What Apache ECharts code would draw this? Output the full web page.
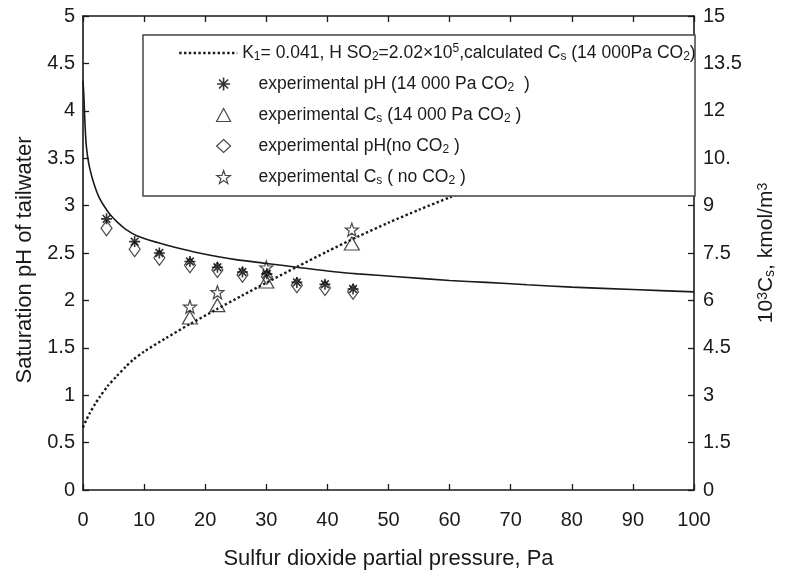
<!DOCTYPE html>
<html style="height: 100%">
    <head>
        <meta charset="utf-8">
    </head>
    <body style="height: 100%; margin: 0; background: #fff">
        <div id="container" style="width: 785px; height: 575px"></div>

        <script type="text/javascript" src="https://cdn.jsdelivr.net/npm/echarts@6/dist/echarts.min.js"></script>
        <script type="text/javascript">
var dom = document.getElementById("container");
var myChart = echarts.init(dom);

// calculated saturation pH (solid curve, left axis)
var calcPhX = [0, 0.15, 0.3, 0.5, 0.75, 1.08, 1.6, 2.17, 2.76, 3.5, 4.5, 5.7, 7, 8.9, 12.2, 15, 19, 25, 30, 35, 40, 45, 51.5, 60, 66, 72.7, 80, 90, 100];
var calcPh  = [4.32, 4.15, 3.9, 3.66, 3.52, 3.40, 3.27, 3.16, 3.07, 2.99, 2.90, 2.82, 2.75, 2.68, 2.61, 2.56, 2.50, 2.43, 2.39, 2.35, 2.31, 2.28, 2.25, 2.21, 2.19, 2.165, 2.14, 2.115, 2.09];

// calculated Cs (dotted curve, right axis)
var calcCsX = [0, 0.5, 1.1, 2, 2.76, 4, 5.5, 7, 8.2, 10, 13.6, 17.4, 21.7, 26, 30, 35, 40, 45, 50, 55, 60, 65, 70, 80, 90, 100];
var calcCs  = [1.98, 2.2, 2.43, 2.73, 2.95, 3.28, 3.6, 3.9, 4.12, 4.38, 4.81, 5.24, 5.7, 6.15, 6.56, 7.06, 7.55, 8.02, 8.46, 8.87, 9.26, 9.64, 10.0, 10.71, 11.4, 12.06];

// experimental pH
var phX     = [3.85, 8.45, 12.5, 17.5, 22, 26.1, 30.1, 35, 39.6, 44.2];
var phCo2   = [2.86, 2.62, 2.50, 2.41, 2.35, 2.30, 2.28, 2.19, 2.17, 2.12];
var phNoCo2 = [2.76, 2.54, 2.45, 2.37, 2.32, 2.27, 2.25, 2.16, 2.13, 2.09];

// experimental Cs
var csX     = [17.5, 22, 30, 44];
var csCo2   = [5.46, 5.85, 6.6, 7.8];
var csNoCo2 = [5.8, 6.26, 7.04, 8.24];

var rightTickLabels = ['0', '1.5', '3', '4.5', '6', '7.5', '9', '10.', '12', '13.5', '15'];

var names = [
    'calc Cs 14000',
    'exp pH 14000',
    'exp Cs 14000',
    'exp pH no',
    'exp Cs no'
];
var legendText = {
    'calc Cs 14000': 'K{sub|1}= 0.041, H SO{sub|2}=2.02\u00d710{sup|5},calculated C{sub|s} (14 000Pa CO{sub|2})',
    'exp pH 14000': 'experimental pH (14 000 Pa CO{sub|2}  )',
    'exp Cs 14000': 'experimental C{sub|s} (14 000 Pa CO{sub|2} )',
    'exp pH no': 'experimental pH(no CO{sub|2} )',
    'exp Cs no': 'experimental C{sub|s} ( no CO{sub|2} )'
};

function zip(xs, ys) {
    return xs.map(function (x, i) { return [x, ys[i]]; });
}

var FONT = 'Liberation Sans';
var INK = '#1a1a1a';
var asteriskPath = 'path://M5 0L5 10M0 5L10 5M1.5 1.5L8.5 8.5M8.5 1.5L1.5 8.5';
var starPath = 'path://M10 0L12.35 6.76L19.51 6.91L13.8 11.24L15.88 18.09L10 14L4.12 18.09L6.2 11.24L0.49 6.91L7.65 6.76Z';

var richText = {
    sub: {fontSize: 12, fontFamily: FONT, color: INK, verticalAlign: 'bottom', lineHeight: 10},
    sup: {fontSize: 12, fontFamily: FONT, color: INK, verticalAlign: 'top', lineHeight: 10}
};

var hollow = {color: 'rgba(0,0,0,0)', borderColor: INK, borderWidth: 1.2};
var asteriskStyle = {color: 'rgba(0,0,0,0)', borderColor: '#000', borderWidth: 1.6};

function tick() {
    return {show: true, inside: true, length: 6, lineStyle: {color: INK, width: 1.3}};
}
function axisLine() {
    return {show: true, onZero: false, lineStyle: {color: INK, width: 1.6}};
}

var option = {
    animation: false,
    backgroundColor: '#fff',
    textStyle: {fontFamily: FONT},
    grid: {left: 83, right: 87, top: 16, bottom: 77, containLabel: false},
    graphic: [{
        type: 'rect',
        z: 10,
        shape: {x: 143, y: 35, width: 552, height: 161},
        style: {fill: '#fff', stroke: '#444', lineWidth: 1.5}
    }],
    legend: [{
        z: 20,
        orient: 'vertical',
        left: 178,
        top: 43,
        padding: 0,
        itemWidth: 58,
        itemHeight: 14,
        data: [names[0]],
        lineStyle: {color: INK, width: 2.4, type: 'dotted'},
        itemStyle: {color: 'rgba(0,0,0,0)', borderWidth: 0},
        formatter: function (n) { return legendText[n]; },
        textStyle: {fontSize: 17.5, fontFamily: FONT, color: INK, lineHeight: 20, rich: richText}
    }, {
        z: 20,
        orient: 'vertical',
        left: 216,
        top: 74,
        padding: 0,
        itemWidth: 14,
        itemHeight: 13,
        itemGap: 11,
        data: [
            {name: names[1], itemStyle: asteriskStyle},
            names[2],
            names[3],
            names[4]
        ],
        itemStyle: hollow,
        formatter: function (n) { return legendText[n]; },
        textStyle: {fontSize: 17.5, fontFamily: FONT, color: INK, lineHeight: 20, padding: [0, 0, 0, 23], rich: richText}
    }],
    xAxis: [{
        type: 'value',
        min: 0, max: 100, interval: 10,
        name: 'Sulfur dioxide partial pressure, Pa',
        nameLocation: 'middle',
        nameGap: 58,
        nameTextStyle: {fontSize: 22, fontFamily: FONT, color: INK},
        axisLine: axisLine(),
        axisTick: tick(),
        axisLabel: {fontSize: 20, fontFamily: FONT, color: INK, margin: 20},
        splitLine: {show: false}
    }, {
        type: 'value',
        position: 'top',
        min: 0, max: 100, interval: 10,
        axisLine: axisLine(),
        axisTick: tick(),
        axisLabel: {show: false},
        splitLine: {show: false}
    }],
    yAxis: [{
        type: 'value',
        min: 0, max: 5, interval: 0.5,
        name: 'Saturation pH of tailwater',
        nameLocation: 'middle',
        nameGap: 46,
        nameRotate: 90,
        nameTextStyle: {fontSize: 22, fontFamily: FONT, color: INK, padding: [0, 14, 0, 0]},
        axisLine: axisLine(),
        axisTick: tick(),
        axisLabel: {fontSize: 20, fontFamily: FONT, color: INK, margin: 8},
        splitLine: {show: false}
    }, {
        type: 'value',
        position: 'right',
        min: 0, max: 15, interval: 1.5,
        name: '10{sup|3}C{sub|s}, kmol/m{sup|3}',
        nameLocation: 'middle',
        nameGap: 62,
        nameRotate: 90,
        nameTextStyle: {
            fontSize: 21, fontFamily: FONT, color: INK,
            rich: {
                sub: {fontSize: 14, fontFamily: FONT, color: INK, verticalAlign: 'bottom', lineHeight: 12},
                sup: {fontSize: 14, fontFamily: FONT, color: INK, verticalAlign: 'top', lineHeight: 12}
            }
        },
        axisLine: axisLine(),
        axisTick: tick(),
        axisLabel: {
            fontSize: 20, fontFamily: FONT, color: INK, margin: 9,
            formatter: function (v) { return rightTickLabels[Math.round(v / 1.5)]; }
        },
        splitLine: {show: false}
    }],
    series: [{
        name: 'calc pH',
        type: 'line',
        xAxisIndex: 0, yAxisIndex: 0,
        data: zip(calcPhX, calcPh),
        symbol: 'none',
        smooth: 0.25,
        lineStyle: {color: INK, width: 1.6},
        z: 2
    }, {
        name: names[0],
        type: 'line',
        xAxisIndex: 0, yAxisIndex: 1,
        data: zip(calcCsX, calcCs),
        symbol: 'none',
        smooth: 0.25,
        itemStyle: {color: INK},
        lineStyle: {color: INK, width: 2.4, type: 'dotted'},
        z: 2
    }, {
        name: names[3],
        type: 'scatter',
        xAxisIndex: 0, yAxisIndex: 0,
        data: zip(phX, phNoCo2),
        symbol: 'diamond',
        symbolSize: [11, 15],
        itemStyle: hollow,
        z: 3
    }, {
        name: names[1],
        type: 'scatter',
        xAxisIndex: 0, yAxisIndex: 0,
        data: zip(phX, phCo2),
        symbol: asteriskPath,
        symbolSize: 11,
        itemStyle: asteriskStyle,
        z: 4
    }, {
        name: names[2],
        type: 'scatter',
        xAxisIndex: 0, yAxisIndex: 1,
        data: zip(csX, csCo2),
        symbol: 'triangle',
        symbolSize: [15, 13],
        itemStyle: hollow,
        z: 3
    }, {
        name: names[4],
        type: 'scatter',
        xAxisIndex: 0, yAxisIndex: 1,
        data: zip(csX, csNoCo2),
        symbol: starPath,
        symbolSize: 13,
        itemStyle: hollow,
        z: 3
    }]
};

if (option && typeof option === 'object') {
    myChart.setOption(option);
}
        </script>
    </body>
</html>
